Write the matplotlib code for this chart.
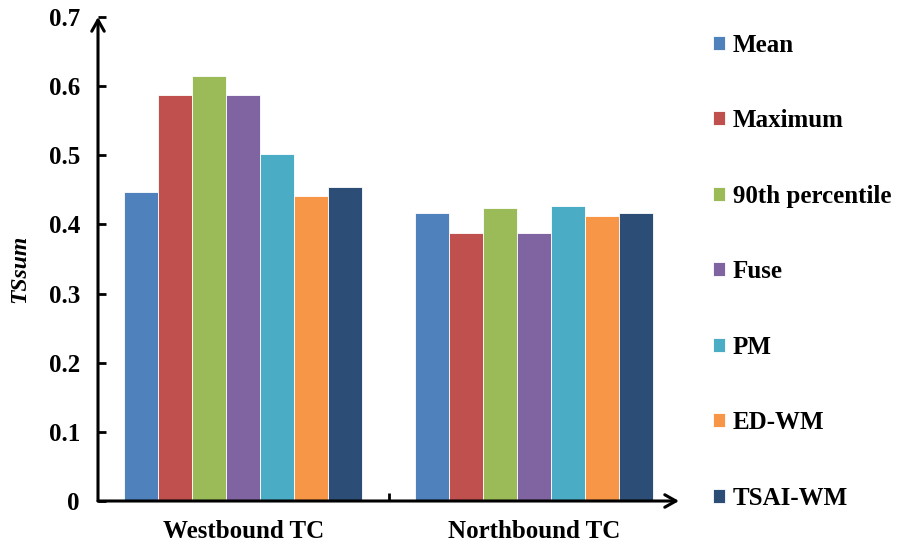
import matplotlib
matplotlib.use("Agg")
import matplotlib.pyplot as plt
import numpy as np

categories = ["Westbound TC", "Northbound TC"]
methods = ["Mean", "Maximum", "90th percentile", "Fuse", "PM", "ED-WM", "TSAI-WM"]
westbound = [0.447, 0.587, 0.615, 0.587, 0.502, 0.441, 0.454]
northbound = [0.417, 0.388, 0.424, 0.388, 0.427, 0.412, 0.416]
colors = ["#4F81BD", "#C0504D", "#9BBB59", "#8064A2", "#4BACC6", "#F79646", "#2C4D75"]
yticks = [0, 0.1, 0.2, 0.3, 0.4, 0.5, 0.6, 0.7]
ytick_labels = ["0", "0.1", "0.2", "0.3", "0.4", "0.5", "0.6", "0.7"]

plt.rcParams['font.family'] = ['Liberation Serif', 'DejaVu Serif']
plt.rcParams['font.weight'] = 'bold'

fig = plt.figure(figsize=(9.09, 5.49), dpi=100)
ax = fig.add_axes([98/909, 48/549, (679-98)/909, (501-17)/549])

x = np.arange(len(categories))
group_w = 0.82
bw = group_w / len(methods)
values = np.array([westbound, northbound])
for i, m in enumerate(methods):
    ax.bar(x - group_w/2 + bw*(i+0.5), values[:, i], width=bw, color=colors[i],
           edgecolor="white", linewidth=0.6, label=m, zorder=2)

ax.set_xlim(-0.5, 1.5)
ax.set_ylim(0, 0.7)
for s in ax.spines.values():
    s.set_visible(False)

# axis lines with arrows
ax.annotate("", xy=(0, 1.0), xytext=(0, 0), xycoords="axes fraction",
            arrowprops=dict(arrowstyle="->,head_length=0.8,head_width=0.45", lw=2.2, color="black",
                            shrinkA=0, shrinkB=0), annotation_clip=False)
ax.annotate("", xy=(1.0, 0), xytext=(0, 0), xycoords="axes fraction",
            arrowprops=dict(arrowstyle="->,head_length=0.8,head_width=0.45", lw=2.2, color="black",
                            shrinkA=0, shrinkB=0), annotation_clip=False)

ax.set_yticks(yticks)
ax.set_yticklabels(ytick_labels, fontsize=18, fontweight="bold")
ax.tick_params(axis="y", direction="in", length=6, width=2, pad=13)

ax.set_xticks([0.5], minor=True)
ax.tick_params(axis="x", which="minor", direction="in", length=6, width=2)
ax.set_xticks(x)
ax.set_xticklabels(categories, fontsize=18, fontweight="bold")
ax.tick_params(axis="x", which="major", length=0, pad=14)

ax.set_ylabel("TSsum", fontsize=17, fontweight="bold", fontstyle="italic")
ax.yaxis.set_label_coords(-0.117, 0.48)

leg = ax.legend(loc="upper left", bbox_to_anchor=(1.02, 1.012), frameon=False,
                prop=dict(size=18, weight="bold"), labelspacing=2.1,
                handlelength=0.48, handleheight=0.48, handletextpad=0.3)

fig.savefig("out.png", dpi=100)
